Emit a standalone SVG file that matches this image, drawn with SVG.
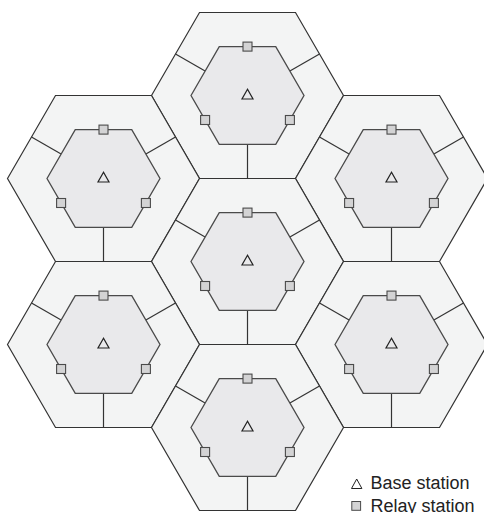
<svg xmlns="http://www.w3.org/2000/svg" xmlns:xlink="http://www.w3.org/1999/xlink" width="484" height="513" viewBox="0 0 484 513">
<style>
.outer{fill:#f3f4f4;stroke:#333;stroke-width:1.2;stroke-linejoin:miter}
.inner{fill:#e9e9eb;stroke:#4a4a4a;stroke-width:1.3}
.spoke{stroke:#333;stroke-width:1.2;fill:none}
.relay{fill:#d3d3d4;stroke:#4a4a4a;stroke-width:1.1}
.bs{fill:none;stroke:#222;stroke-width:1.2;stroke-linejoin:miter}
.lbl{font-family:"Liberation Sans",Arial,sans-serif;font-size:18px;fill:#222}
</style>
<defs>
<g id="outerhex"><polygon class="outer" points="-96,0 -48,-83 48,-83 96,0 48,83 -48,83"/></g>
<g id="cellcore">
<line class="spoke" x1="-72" y1="-41.5" x2="-42.4" y2="-24.5"/>
<line class="spoke" x1="72" y1="-41.5" x2="42.4" y2="-24.5"/>
<line class="spoke" x1="0" y1="48.9" x2="0" y2="83"/>
<polygon class="inner" points="-56.5,0 -28.25,-48.9 28.25,-48.9 56.5,0 28.25,48.9 -28.25,48.9"/>
<rect class="relay" x="-4.5" y="-53.4" width="9" height="9"/>
<rect class="relay" x="-46.9" y="20" width="9" height="9"/>
<rect class="relay" x="37.9" y="20" width="9" height="9"/>
<polygon class="bs" points="0,-6.3 -5.5,3.5 5.5,3.5"/>
</g>
</defs>
<g id="cells-outline">
<use xlink:href="#outerhex" href="#outerhex" transform="translate(247.5,95.5)"/>
<use xlink:href="#outerhex" href="#outerhex" transform="translate(103.5,178.5)"/>
<use xlink:href="#outerhex" href="#outerhex" transform="translate(391.5,178.5)"/>
<use xlink:href="#outerhex" href="#outerhex" transform="translate(247.5,261.5)"/>
<use xlink:href="#outerhex" href="#outerhex" transform="translate(103.5,344.5)"/>
<use xlink:href="#outerhex" href="#outerhex" transform="translate(391.5,344.5)"/>
<use xlink:href="#outerhex" href="#outerhex" transform="translate(247.5,427.5)"/>
</g>
<g id="cell-top" transform="translate(247.5,95.5)"><use xlink:href="#cellcore" href="#cellcore"/></g>
<g id="cell-upper-left" transform="translate(103.5,178.5)"><use xlink:href="#cellcore" href="#cellcore"/></g>
<g id="cell-upper-right" transform="translate(391.5,178.5)"><use xlink:href="#cellcore" href="#cellcore"/></g>
<g id="cell-center" transform="translate(247.5,261.5)"><use xlink:href="#cellcore" href="#cellcore"/></g>
<g id="cell-lower-left" transform="translate(103.5,344.5)"><use xlink:href="#cellcore" href="#cellcore"/></g>
<g id="cell-lower-right" transform="translate(391.5,344.5)"><use xlink:href="#cellcore" href="#cellcore"/></g>
<g id="cell-bottom" transform="translate(247.5,427.5)"><use xlink:href="#cellcore" href="#cellcore"/></g>
<g id="connectors"></g>
<g id="legend">
<polygon class="bs" points="356.7,479 351.5,488.5 361.9,488.5" style="stroke-width:1"/>
<text class="lbl" x="370.5" y="488.5">Base station</text>
<rect class="relay" x="351.8" y="501.5" width="8.8" height="8.8" style="stroke-width:1"/>
<text class="lbl" x="370.5" y="511.5">Relay station</text>
</g>
</svg>
